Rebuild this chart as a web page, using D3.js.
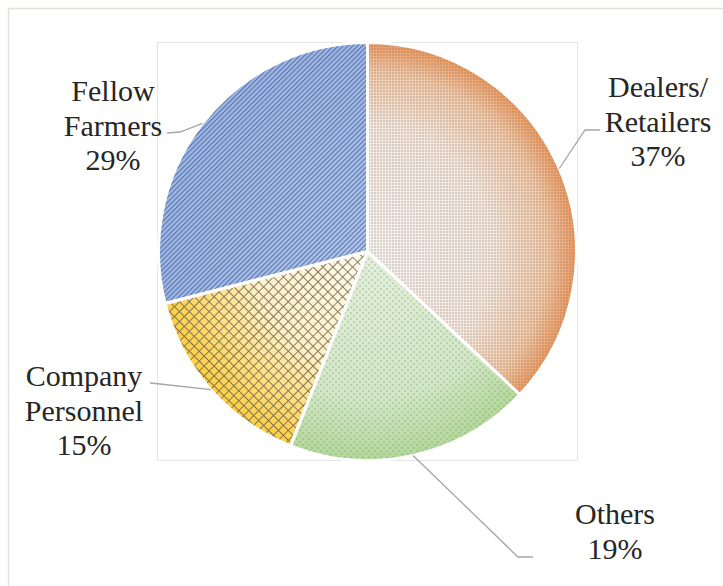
<!DOCTYPE html>
<html lang="en">
<head>
<meta charset="utf-8">
<script src="https://cdn.jsdelivr.net/npm/d3@7"></script>
<style>
  body { margin: 0; }
  #pie { position: relative; width: 723px; height: 586px; }
  .lbl { position: absolute; font-family: 'Liberation Serif', 'Times New Roman', Times, serif; font-size: 30px;
         color: #262626; text-align: center; white-space: nowrap; line-height: 34.5px; transform: translateX(-50%); }
</style>
</head>
<body>
<div id="pie"></div>
<script>
// Data, clockwise from 12 o'clock
const categories = ["Dealers/ Retailers", "Others", "Company Personnel", "Fellow Farmers"];
const labelLines = [["Dealers/", "Retailers"], ["Others"], ["Company", "Personnel"], ["Fellow", "Farmers"]];
const shares = [37, 19, 15, 29];

// layout bits (first-line baseline of each label, and leader line end/elbow)
const labelPos = [[658, 96], [615, 523], [84, 385], [113, 100]];
const leaderEnd = [[600, 130], [533, 557], [150, 383], [167, 133]];
const leaderElbow = [[585, 130], [518, 557], [160, 384], [180, 132]];

const width = 723, height = 586;
const cx = 367.5, cy = 251.5, radius = 209;

const svg = d3.select("#pie")
    .append("svg")
        .attr("width", width)
        .attr("height", height)
        .style("position", "absolute").style("left", 0).style("top", 0);

// outer chart frame + plot area
svg.append("rect")
    .attr("x", 8.5).attr("y", 8.5)
    .attr("width", 800).attr("height", 800)
    .attr("fill", "none").attr("stroke", "#e2e2da").attr("stroke-width", 1.5);
svg.append("rect")
    .attr("x", 157.5).attr("y", 42.5)
    .attr("width", 420).attr("height", 418)
    .attr("fill", "none").attr("stroke", "#e6e6e6");

const defs = svg.append("defs");

// radial gradients per slice: light centre, coloured rim
const grads = [
    {id: "gOrange", stops: [["0%", "#fbf6f2"], ["60%", "#f8ebe1"], ["86%", "#f6cba9"], ["100%", "#f09a5e"]]},
    {id: "gGreen",  stops: [["0%", "#e4f1dc"], ["70%", "#d4e9c8"], ["100%", "#b3d99a"]]},
    {id: "gYellow", stops: [["0%", "#fffaea"], ["55%", "#fff0c8"], ["100%", "#ffcf40"]]},
    {id: "gBlue",   stops: [["0%", "#b2c6ea"], ["100%", "#9fb7e3"]]}
];
grads.forEach(g => {
    const rg = defs.append("radialGradient")
        .attr("id", g.id)
        .attr("gradientUnits", "userSpaceOnUse")
        .attr("cx", 0).attr("cy", 0).attr("r", radius);
    g.stops.forEach(s => rg.append("stop").attr("offset", s[0]).attr("stop-color", s[1]));
});

// pattern overlays
const pDotsO = defs.append("pattern").attr("id", "pDotsO")
    .attr("patternUnits", "userSpaceOnUse").attr("width", 3).attr("height", 3);
pDotsO.append("circle").attr("cx", 1.5).attr("cy", 1.5).attr("r", 0.7).attr("fill", "#6b6360");

const pDotsG = defs.append("pattern").attr("id", "pDotsG")
    .attr("patternUnits", "userSpaceOnUse").attr("width", 6).attr("height", 6);
pDotsG.append("circle").attr("cx", 1.5).attr("cy", 1.5).attr("r", 0.8).attr("fill", "#7a8a70");
pDotsG.append("circle").attr("cx", 4.5).attr("cy", 4.5).attr("r", 0.8).attr("fill", "#7a8a70");

const pStripe = defs.append("pattern").attr("id", "pStripe")
    .attr("patternUnits", "userSpaceOnUse").attr("width", 3.4).attr("height", 10)
    .attr("patternTransform", "rotate(45)");
pStripe.append("rect").attr("x", 0).attr("y", 0).attr("width", 1.1).attr("height", 10).attr("fill", "#46639e");

const pCross = defs.append("pattern").attr("id", "pCross")
    .attr("patternUnits", "userSpaceOnUse").attr("width", 7).attr("height", 7)
    .attr("patternTransform", "rotate(45)");
pCross.append("rect").attr("x", 0).attr("y", 0).attr("width", 1).attr("height", 7).attr("fill", "#6b6047");
pCross.append("rect").attr("x", 0).attr("y", 0).attr("width", 7).attr("height", 1).attr("fill", "#6b6047");

const baseFills = ["url(#gOrange)", "url(#gGreen)", "url(#gYellow)", "url(#gBlue)"];
const overlays = ["url(#pDotsO)", "url(#pDotsG)", "url(#pCross)", "url(#pStripe)"];

const pie = d3.pie().sort(null).value(d => d);
const arcs = pie(shares);
const arc = d3.arc().innerRadius(0).outerRadius(radius);

const g = svg.append("g").attr("transform", `translate(${cx}, ${cy})`);

g.selectAll(".base")
    .data(arcs)
    .join("path")
        .attr("class", "base")
        .attr("d", arc)
        .attr("fill", (d, i) => baseFills[i]);

g.selectAll(".overlay")
    .data(arcs)
    .join("path")
        .attr("class", "overlay")
        .attr("d", arc)
        .attr("fill", (d, i) => overlays[i])
        .attr("opacity", 0.8);

// white separators
g.selectAll(".sep")
    .data(arcs)
    .join("path")
        .attr("class", "sep")
        .attr("d", arc)
        .attr("fill", "none")
        .attr("stroke", "#fff")
        .attr("stroke-width", 3)
        .attr("stroke-linejoin", "round");

// leader lines from slice rim (mid angle) to label
arcs.forEach((d, i) => {
    const a = (d.startAngle + d.endAngle) / 2;
    const px = cx + radius * Math.sin(a);
    const py = cy - radius * Math.cos(a);
    svg.append("polyline")
        .attr("points", [[px, py], leaderElbow[i], leaderEnd[i]].map(p => p.join(",")).join(" "))
        .attr("fill", "none")
        .attr("stroke", "#a6a6a6")
        .attr("stroke-width", 1.3);
});

// labels as html blocks over the svg (baseline ~ top + 26px for 34.5px lines)
arcs.forEach((d, i) => {
    const lines = labelLines[i].concat([`${shares[i]}%`]);
    d3.select("#pie").append("div")
        .attr("class", "lbl")
        .style("left", `${labelPos[i][0]}px`)
        .style("top", `${labelPos[i][1] - 26}px`)
        .html(lines.join("<br>"));
});
</script>
</body>
</html>
